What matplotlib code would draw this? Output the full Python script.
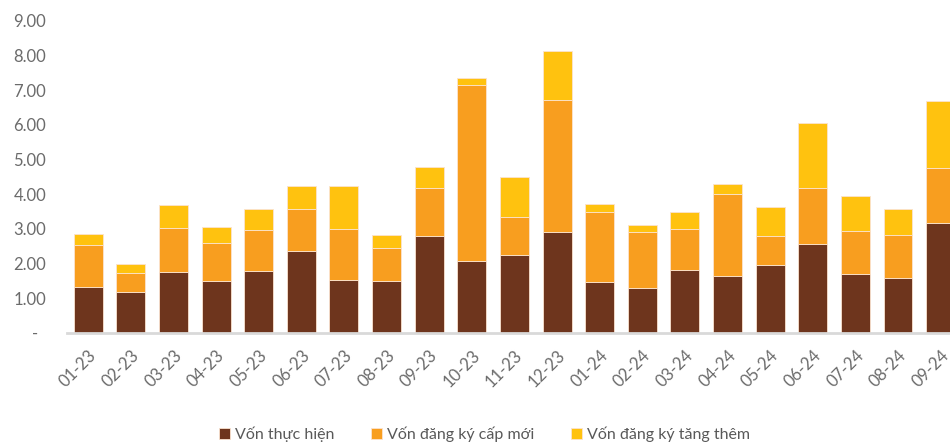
import matplotlib.pyplot as plt
import numpy as np

plt.rcParams['font.family'] = ['Lato', 'DejaVu Sans']

months = ['01-23', '02-23', '03-23', '04-23', '05-23', '06-23', '07-23',
          '08-23', '09-23', '10-23', '11-23', '12-23', '01-24', '02-24',
          '03-24', '04-24', '05-24', '06-24', '07-24', '08-24', '09-24']

# Vốn thực hiện
thuc_hien = [1.34, 1.19, 1.76, 1.51, 1.79, 2.37, 1.54, 1.50, 2.81, 2.08, 2.24,
             2.92, 1.46, 1.31, 1.82, 1.64, 1.95, 2.58, 1.70, 1.60, 3.18]
# Vốn đăng ký cấp mới
cap_moi = [1.21, 0.55, 1.27, 1.09, 1.17, 1.22, 1.46, 0.94, 1.36, 5.08, 1.11,
           3.81, 2.03, 1.59, 1.19, 2.36, 0.84, 1.61, 1.23, 1.23, 1.57]
# Vốn đăng ký tăng thêm
tang_them = [0.30, 0.24, 0.67, 0.46, 0.61, 0.65, 1.23, 0.39, 0.62, 0.19, 1.16,
             1.40, 0.23, 0.21, 0.49, 0.30, 0.84, 1.88, 1.02, 0.75, 1.94]

labels = ['Vốn thực hiện', 'Vốn đăng ký cấp mới', 'Vốn đăng ký tăng thêm']
colors = ['#6E351D', '#F89E1F', '#FFC20F']

yticks = [0, 1, 2, 3, 4, 5, 6, 7, 8, 9]
ytick_labels = ['-  '] + ['%.2f' % v for v in yticks[1:]]

fig = plt.figure(figsize=(9.5, 4.45), dpi=100)
ax = fig.add_axes([0.0705, 0.2517, 0.9295, 0.7013])

x = np.arange(len(months))
width = 0.68
bottom = np.zeros(len(months))
for vals, lab, col in zip([thuc_hien, cap_moi, tang_them], labels, colors):
    ax.bar(x, vals, width, bottom=bottom, color=col, label=lab,
           edgecolor='#FBE3CF', linewidth=0.6, zorder=2)
    bottom = bottom + np.array(vals)

ax.set_xlim(-0.5, 20.22)
ax.set_ylim(0, 9)
ax.set_yticks(yticks)
ax.set_yticklabels(ytick_labels)
ax.set_xticks(x)
ax.set_xticklabels(months, rotation=45, ha='right', rotation_mode='anchor')

ax.tick_params(axis='both', length=0, colors='#6b6b6b', labelsize=12)
ax.tick_params(axis='y', pad=15)
ax.tick_params(axis='x', pad=10)
for s in ['top', 'right', 'left']:
    ax.spines[s].set_visible(False)
ax.spines['bottom'].set_color('#D9D9D9')
ax.spines['bottom'].set_linewidth(2)
ax.spines['bottom'].set_zorder(3)

fig.legend(loc='lower center', bbox_to_anchor=(0.51, -0.025), ncol=3,
           frameon=False, fontsize=11.5, handlelength=0.7, handleheight=0.7,
           handletextpad=0.3, columnspacing=2.3, labelcolor='#595959')

fig.savefig('out.png', dpi=100)
